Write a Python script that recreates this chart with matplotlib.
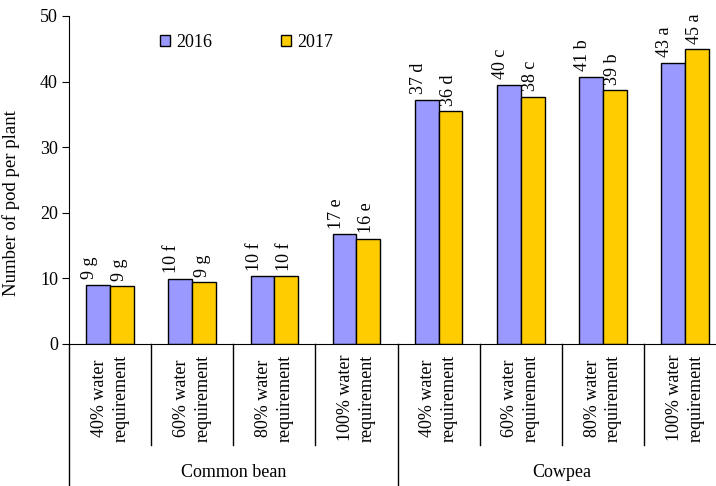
import numpy as np
import matplotlib.pyplot as plt
import matplotlib.transforms as mtransforms
from matplotlib.patches import Patch

plt.rcParams['font.family'] = ['Liberation Serif', 'DejaVu Serif']

treatments = ['40% water\nrequirement', '60% water\nrequirement',
              '80% water\nrequirement', '100% water\nrequirement'] * 2
crops = ['Common bean', 'Cowpea']
pods_2016 = [9.0, 9.9, 10.3, 16.7, 37.2, 39.5, 40.7, 42.9]
pods_2017 = [8.8, 9.4, 10.3, 16.0, 35.5, 37.7, 38.7, 44.9]
labels_2016 = ['9 g', '10 f', '10 f', '17 e', '37 d', '40 c', '41 b', '43 a']
labels_2017 = ['9 g', '9 g', '10 f', '16 e', '36 d', '38 c', '39 b', '45 a']

fig = plt.figure(figsize=(7.16, 4.86), dpi=100)
ax = fig.add_axes([0.0964, 0.2922, 0.9176, 0.675])

x = np.arange(len(pods_2016))
w = 0.29
b1 = ax.bar(x - w/2, pods_2016, w, color='#9999FF', edgecolor='black', linewidth=1, label='2016')
b2 = ax.bar(x + w/2, pods_2017, w, color='#FFCC00', edgecolor='black', linewidth=1, label='2017')

# Excel puts the 2016 labels a bit left of their bars
for bars, labs, dx in [(b1, labels_2016, -6), (b2, labels_2017, -1.5)]:
    for r, t in zip(bars, labs):
        ax.annotate(t, (r.get_x() + r.get_width()/2, r.get_height()),
                    xytext=(dx, 4), textcoords='offset points',
                    rotation=90, ha='center', va='bottom', fontsize=13)

ax.set_xlim(-0.5, len(x) - 0.5)
ax.set_ylim(0, 50)
ax.set_yticks(range(0, 51, 10))
ax.tick_params(axis='y', direction='out', length=5, labelsize=13, pad=3)
ax.set_xticks([])
ax.spines['top'].set_visible(False)
ax.spines['right'].set_visible(False)
ax.set_ylabel('Number of pod per plant', fontsize=13.5)
ax.yaxis.set_label_coords(-0.075, 0.43)

# multi-level category axis
trans = mtransforms.blended_transform_factory(ax.transData, ax.transAxes)
for k in range(len(x) + 1):
    xb = k - 0.5
    low = -0.435 if k % 4 == 0 else -0.308
    ax.plot([xb, xb], [0, low], color='black', lw=1, transform=trans, clip_on=False)
for i, t in enumerate(treatments):
    ax.text(i, -0.165, t, transform=trans, rotation=90, ha='center', va='center',
            multialignment='center', fontsize=13, linespacing=1.35)
for j, c in enumerate(crops):
    ax.text(j*4 + 1.5, -0.393, c, transform=trans, ha='center', va='center', fontsize=13)

handles = [Patch(facecolor='#9999FF', edgecolor='black'), Patch(facecolor='#FFCC00', edgecolor='black')]
ax.legend(handles, ['2016', '2017'], loc='upper left', bbox_to_anchor=(0.1385, 0.945), ncol=2,
          frameon=False, fontsize=13, handlelength=0.55, handleheight=0.55,
          columnspacing=3.8, handletextpad=0.35, borderpad=0, borderaxespad=0)

fig.savefig('out.png', dpi=100)
